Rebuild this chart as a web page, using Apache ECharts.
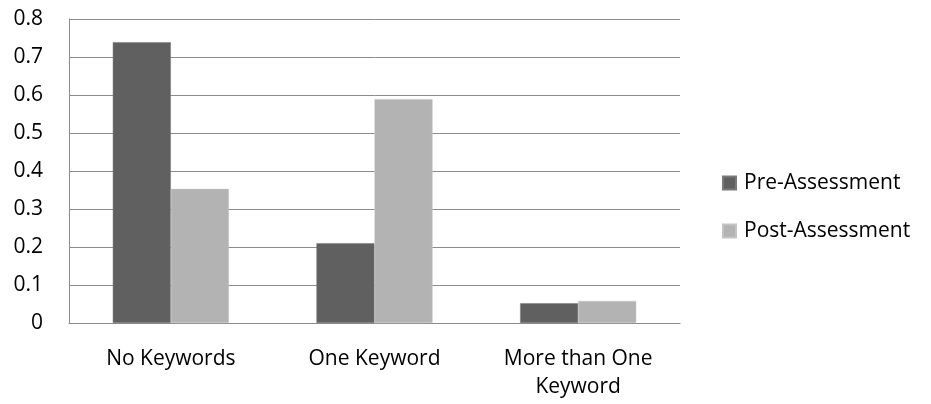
<!DOCTYPE html>
<html>
<head>
<meta charset="utf-8">
<script src="https://cdn.jsdelivr.net/npm/echarts@6/dist/echarts.min.js"></script>
<style>
  html, body { margin: 0; padding: 0; background: #fff; }
  #chart { width: 931px; height: 404px; }
</style>
</head>
<body>
<div id="chart"></div>
<script>
// 数据
const categories = ['No Keywords', 'One Keyword', 'More than One\nKeyword'];
const preValues = [0.739, 0.21, 0.052];
const postValues = [0.353, 0.589, 0.058];
const yTicks = [0, 0.1, 0.2, 0.3, 0.4, 0.5, 0.6, 0.7, 0.8];

const font = '"Open Sans", "Noto Sans", sans-serif';
const chart = echarts.init(document.getElementById('chart'));

chart.setOption({
  animation: false,
  textStyle: { fontFamily: font },
  grid: { left: 69, right: 251, top: 19, bottom: 81 },
  legend: {
    orient: 'vertical',
    left: 717,
    top: 166,
    itemWidth: 13,
    itemHeight: 13,
    itemGap: 24,
    icon: 'rect',
    textStyle: { fontSize: 21, lineHeight: 24, color: '#000', fontFamily: font, padding: [0, 0, 0, 3] },
    data: ['Pre-Assessment', 'Post-Assessment'],
  },
  xAxis: {
    type: 'category',
    data: categories,
    axisLine: { lineStyle: { color: '#8c8c8c', width: 1 } },
    axisTick: { show: false },
    axisLabel: { color: '#000', fontSize: 21, margin: 22, lineHeight: 28, fontFamily: font },
  },
  yAxis: {
    type: 'value',
    min: yTicks[0],
    max: yTicks[yTicks.length - 1],
    interval: 0.1,
    axisLine: { show: true, lineStyle: { color: '#8c8c8c', width: 1 } },
    axisTick: { show: false },
    splitLine: { lineStyle: { color: '#8c8c8c', width: 1 } },
    axisLabel: {
      color: '#000', fontSize: 21, margin: 26, fontFamily: font,
      formatter: v => String(Math.round(v * 10) / 10),
    },
  },
  series: [
    {
      name: 'Pre-Assessment',
      type: 'bar',
      data: preValues,
      barGap: '0%',
      barCategoryGap: '43%',
      itemStyle: { color: '#606060', borderColor: '#7a7a7a', borderWidth: 0.5 },
    },
    {
      name: 'Post-Assessment',
      type: 'bar',
      data: postValues,
      itemStyle: { color: '#b3b3b3', borderColor: '#c4c4c4', borderWidth: 0.5 },
    },
  ],
});
</script>
</body>
</html>
